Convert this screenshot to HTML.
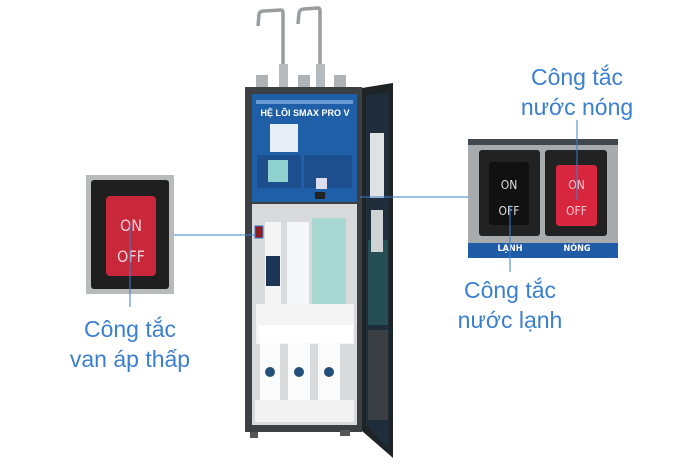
<!DOCTYPE html>
<html><head><meta charset="utf-8"><style>
html,body{margin:0;padding:0;background:#fff;}
#c{position:relative;width:700px;height:467px;overflow:hidden;background:#fff;font-family:"Liberation Sans","Noto Sans CJK SC",sans-serif;}
.a{position:absolute;}
.t{position:absolute;color:#3b7fd0;font-size:23px;text-align:center;line-height:30px;white-space:nowrap;}
.sw{position:absolute;font-family:"DejaVu Sans Condensed","Liberation Sans",sans-serif;text-align:center;}
</style></head><body><div id="c">
<svg class="a" style="left:0;top:0" width="700" height="467">
 <path d="M258 26 L259 14 Q260 11 264 11 L281 10 Q283 10 283 13 L283 68" fill="none" stroke="#9a9da0" stroke-width="3.5"/>
 <path d="M298 24 L299 13 Q300 9 304 9 L318 8 Q320 8 320 11 L320 68" fill="none" stroke="#9a9da0" stroke-width="3.5"/>
 <rect x="279" y="64" width="9" height="24" fill="#b8bbbe"/>
 <rect x="316" y="64" width="9" height="24" fill="#b8bbbe"/>
 <rect x="256" y="75" width="12" height="13" fill="#b0b3b6"/>
 <rect x="298" y="75" width="12" height="13" fill="#b0b3b6"/>
 <rect x="334" y="75" width="12" height="13" fill="#b0b3b6"/>
 <polygon points="362,88 393,83 393,458 362,431" fill="#1e2326"/>
 <polygon points="366,95 389,92 389,450 366,425" fill="#1f2c3a"/>
 <rect x="368" y="240" width="20" height="85" fill="#27595a" opacity="0.8"/>
 <rect x="368" y="330" width="20" height="90" fill="#3a3f44"/>
 <rect x="370" y="133" width="14" height="65" fill="#dfe1e3"/>
 <rect x="371" y="210" width="12" height="42" fill="#cfd3d4"/>
 <rect x="245" y="87" width="117" height="345" fill="#3c4043"/>
 <rect x="252" y="94" width="105" height="108" fill="#1f5fa8"/>
 <rect x="256" y="100" width="97" height="4" fill="#9cc3ec" opacity=".6"/>
 <text x="305" y="116" fill="#fff" font-size="9" font-weight="bold" text-anchor="middle" font-family="Liberation Sans">HỆ LÕI SMAX PRO V</text>
 <rect x="270" y="124" width="28" height="28" fill="#e8eef5"/>
 <rect x="257" y="155" width="44" height="33" fill="#1d4f8e"/>
 <rect x="304" y="155" width="48" height="33" fill="#1d4f8e"/>
 <rect x="268" y="160" width="20" height="22" fill="#8fd2cf"/>
 <rect x="315" y="192" width="10" height="7" fill="#222"/>
 <rect x="316" y="178" width="11" height="11" fill="#dde"/>
 <rect x="252" y="204" width="105" height="221" fill="#d9dadb"/>
 <rect x="265" y="222" width="16" height="84" fill="#f4f4f4"/>
 <rect x="266" y="256" width="14" height="30" fill="#1d3554"/>
 <rect x="287" y="222" width="22" height="84" fill="#f6f7f8"/>
 <rect x="312" y="218" width="34" height="86" fill="#a9d8d3"/>
 <rect x="255" y="226" width="8" height="12" fill="#8b1d22" stroke="#3a78c8"/>
 <rect x="256" y="304" width="98" height="40" fill="#f4f4f4"/>
 <rect x="259" y="325" width="94" height="18" fill="#fff"/>
 <rect x="260" y="343" width="20" height="68" fill="#fbfbfb"/>
 <rect x="288" y="343" width="22" height="68" fill="#fbfbfb"/>
 <rect x="318" y="343" width="22" height="68" fill="#fbfbfb"/>
 <circle cx="270" cy="372" r="5" fill="#244f7a"/><circle cx="299" cy="372" r="5" fill="#244f7a"/><circle cx="329" cy="372" r="5" fill="#244f7a"/>
 <rect x="255" y="400" width="99" height="22" fill="#f2f2f2"/>
 <rect x="250" y="432" width="8" height="6" fill="#555"/>
 <rect x="340" y="430" width="10" height="6" fill="#555"/>
 <g stroke="#3b7fd0" stroke-width="1" fill="none">
  <line x1="174" y1="235" x2="256" y2="235"/>
  <line x1="360" y1="197" x2="468" y2="197"/>
 </g>
</svg>
<div class="a" style="left:86px;top:175px;width:88px;height:119px;background:#b9bbbb;"></div>
<div class="a" style="left:91px;top:180px;width:78px;height:109px;background:#1f1f1f;border-radius:3px;"></div>
<div class="a" style="left:106px;top:196px;width:50px;height:80px;background:#c8283a;border-radius:4px;"></div>
<div class="sw" style="left:106px;top:216px;width:50px;color:#f0d0d4;font-size:16px;">ON</div>
<div class="sw" style="left:106px;top:247px;width:50px;color:#f0d0d4;font-size:16px;">OFF</div>
<div class="a" style="left:468px;top:139px;width:150px;height:119px;background:#a7abad;"></div>
<div class="a" style="left:468px;top:139px;width:150px;height:6px;background:#40474d;"></div>
<div class="a" style="left:479px;top:150px;width:61px;height:86px;background:#222;border-radius:3px;"></div>
<div class="a" style="left:545px;top:150px;width:62px;height:86px;background:#222;border-radius:3px;"></div>
<div class="a" style="left:489px;top:162px;width:40px;height:63px;background:#111;border-radius:3px;"></div>
<div class="a" style="left:556px;top:165px;width:41px;height:61px;background:#d8263e;border-radius:3px;"></div>
<div class="sw" style="left:489px;top:178px;width:40px;color:#ddd;font-size:12px;">ON</div>
<div class="sw" style="left:489px;top:204px;width:40px;color:#ddd;font-size:12px;">OFF</div>
<div class="sw" style="left:556px;top:178px;width:41px;color:#f3c7cd;font-size:12px;">ON</div>
<div class="sw" style="left:556px;top:204px;width:41px;color:#f3c7cd;font-size:12px;">OFF</div>
<div class="a" style="left:468px;top:243px;width:150px;height:15px;background:#1f5ba6;"></div>
<div class="sw" style="left:480px;top:244px;width:60px;color:#fff;font-size:9px;font-weight:bold;">LẠNH</div>
<div class="sw" style="left:546px;top:244px;width:62px;color:#fff;font-size:9px;font-weight:bold;">NÓNG</div>
<svg class="a" style="left:0;top:0" width="700" height="467">
 <g stroke="#3b7fd0" stroke-width="1" fill="none">
  <line x1="130" y1="225" x2="130" y2="307"/>
  <line x1="577" y1="120" x2="577" y2="200"/>
  <line x1="510" y1="205" x2="510" y2="272"/>
 </g>
</svg>
<div class="t" style="left:40px;top:314px;width:180px;">Công tắc<br>van áp thấp</div>
<div class="t" style="left:487px;top:62px;width:180px;">Công tắc<br>nước nóng</div>
<div class="t" style="left:420px;top:275px;width:180px;">Công tắc<br>nước lạnh</div>
</div></body></html>
